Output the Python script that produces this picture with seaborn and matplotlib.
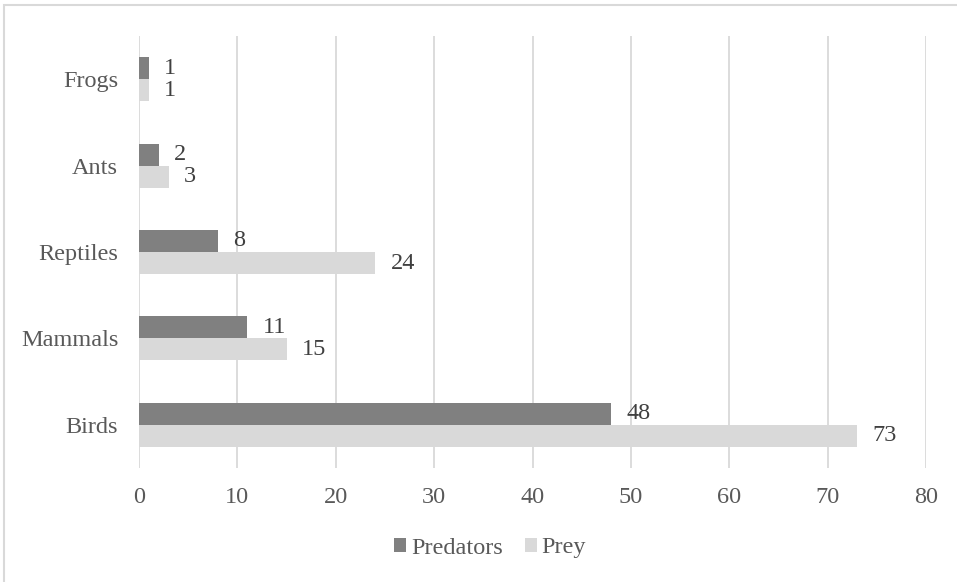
import matplotlib
matplotlib.use("Agg")
import matplotlib.pyplot as plt
import seaborn as sns
import pandas as pd
from matplotlib.patches import Rectangle, Patch

categories = ["Frogs", "Ants", "Reptiles", "Mammals", "Birds"]
predators = [1, 2, 8, 11, 48]
prey = [1, 3, 24, 15, 73]
series = ["Predators", "Prey"]
x_ticks = [0, 10, 20, 30, 40, 50, 60, 70, 80]

df = pd.DataFrame({
    "Group": categories * 2,
    "Count": predators + prey,
    "Series": [series[0]] * len(categories) + [series[1]] * len(categories),
})

sns.set_theme(style="white")
plt.rcParams["font.family"] = ["Liberation Serif", "DejaVu Serif"]

text_col = "#595959"
colors = {"Predators": "#808080", "Prey": "#d9d9d9"}
fs = 17.5

W, H = 957, 582
fig = plt.figure(figsize=(W / 100, H / 100), dpi=100)
ax = fig.add_axes([139 / W, 1 - 468 / H, (926 - 139) / W, (468 - 36) / H])

sns.barplot(data=df, y="Group", x="Count", hue="Series", order=categories,
            hue_order=series, palette=colors, orient="h", width=0.51,
            saturation=1, ax=ax, legend=False, linewidth=0)

ax.set_xlim(0, 80)
ax.set_ylim(4.5, -0.5)
ax.set_xticks(x_ticks)
ax.set_xlabel("")
ax.set_ylabel("")
for s in ax.spines.values():
    s.set_visible(False)
ax.grid(axis="x", color="#d9d9d9", linewidth=1.3)
ax.grid(axis="y", visible=False)
ax.set_axisbelow(True)
ax.tick_params(axis="both", length=0, labelsize=fs, colors=text_col)
ax.tick_params(axis="x", pad=14)
ax.tick_params(axis="y", pad=15)

for cont in ax.containers:
    ax.bar_label(cont, fmt="%d", padding=11, fontsize=fs, color="#404040")

handles = [Patch(facecolor=colors[s], edgecolor="none") for s in series]
fig.legend(handles, series, loc="center", bbox_to_anchor=(490 / W, 1 - 548 / H),
           ncol=2, frameon=False, fontsize=fs, handlelength=0.5,
           handleheight=0.5, handletextpad=0.2, columnspacing=0.9,
           labelcolor=text_col)

fig.patches.append(Rectangle((4 / W, -0.05), 1.1, 1 - 5 / H + 0.05,
                             transform=fig.transFigure, fill=False,
                             edgecolor="#d9d9d9", linewidth=1.5))

fig.savefig("out.png", dpi=100, facecolor="white")
